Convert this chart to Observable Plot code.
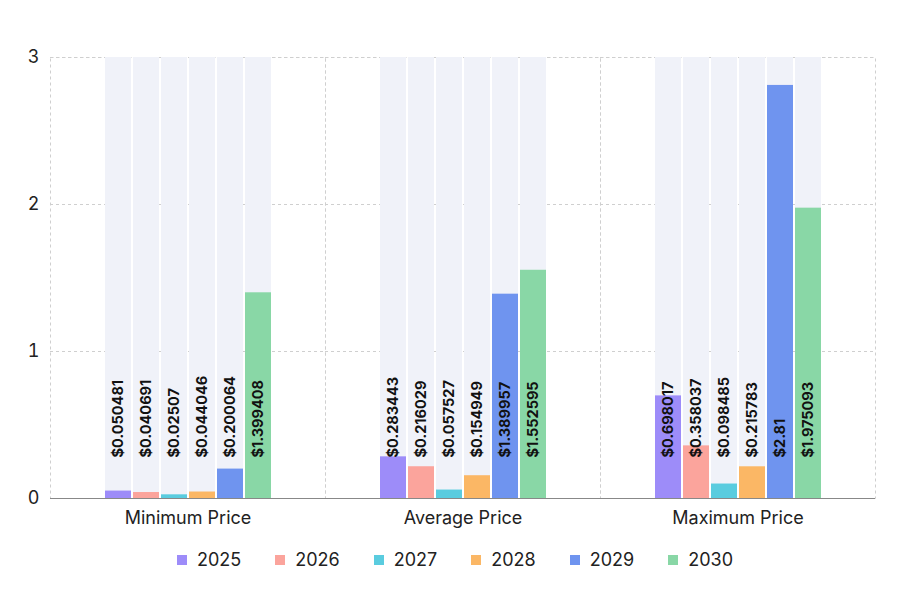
<!DOCTYPE html>
<html>
<head>
<meta charset="utf-8">
<script src="https://cdn.jsdelivr.net/npm/d3@7"></script>
<script src="https://cdn.jsdelivr.net/npm/@observablehq/plot@0.6"></script>
<style>
  body { margin: 0; background: #fff; font-family: Inter, "Noto Sans", sans-serif; }
  #chart { width: 900px; }
  .legend { display: flex; justify-content: center; align-items: center; margin-top: 14px; padding-left: 10px; }
  .item { display: flex; align-items: center; margin: 0 17px; font-size: 18px; color: #222; }
  .sw { width: 10px; height: 10px; margin-right: 10px; }
</style>
</head>
<body>
<div id="chart"></div>
<script>
const categories = ["Minimum Price", "Average Price", "Maximum Price"];
const years = ["2025", "2026", "2027", "2028", "2029", "2030"];
const minPrice = [0.050481, 0.040691, 0.02507, 0.044046, 0.200064, 1.399408];
const avgPrice = [0.283443, 0.216029, 0.057527, 0.154949, 1.389957, 1.552595];
const maxPrice = [0.698017, 0.358037, 0.098485, 0.215783, 2.81, 1.975093];
const colors = ["#9d8cf9", "#fba49c", "#5accdf", "#fbb765", "#6f94ef", "#89d7a6"];
const yTicks = [0, 1, 2, 3];
const yMax = 3;

const series = [minPrice, avgPrice, maxPrice];
const rows = categories.flatMap((c, i) =>
  years.map((yr, j) => ({ category: c, year: yr, value: series[i][j] }))
);

const plot = Plot.plot({
  width: 900,
  height: 535,
  marginTop: 57,
  marginLeft: 50,
  marginRight: 25,
  marginBottom: 37,
  style: { fontFamily: "Inter, 'Noto Sans', sans-serif", color: "#222", fontSize: "18px" },
  fx: { domain: categories, padding: 0, label: null, axis: null },
  x: { domain: years, axis: null, paddingInner: 0.08, paddingOuter: 1.95 },
  y: { domain: [0, yMax], axis: null },
  color: { domain: years, range: colors },
  marks: [
    Plot.frame({ stroke: "#cfcfcf", strokeDasharray: "3,3" }),
    Plot.ruleY([1, 2, 3], { stroke: "#cfcfcf", strokeDasharray: "3,3" }),
    Plot.axisY({ ticks: yTicks, tickSize: 0, tickPadding: 11, label: null, tickFormat: d3.format("d"), fontSize: 18 }),
    Plot.axisFx({ anchor: "bottom", tickSize: 0, tickPadding: 13, label: null, fontSize: 18 }),
    Plot.barY(rows, { fx: "category", x: "year", y: () => yMax, fill: "#f0f2f9" }),
    Plot.barY(rows, { fx: "category", x: "year", y: "value", fill: "year" }),
    Plot.ruleY([0], { stroke: "#888" }),
    Plot.text(rows, {
      fx: "category", x: "year", y: () => 0,
      text: d => "$" + d.value,
      rotate: -90, textAnchor: "start", dy: -41,
      fontSize: 14.5, fontWeight: "bold", fill: "#111"
    })
  ]
});
document.getElementById("chart").appendChild(plot);

const legend = document.createElement("div");
legend.className = "legend";
years.forEach((yr, i) => {
  const item = document.createElement("div");
  item.className = "item";
  const sw = document.createElement("span");
  sw.className = "sw";
  sw.style.background = colors[i];
  const t = document.createElement("span");
  t.textContent = yr;
  item.appendChild(sw);
  item.appendChild(t);
  legend.appendChild(item);
});
document.getElementById("chart").appendChild(legend);
</script>
</body>
</html>
